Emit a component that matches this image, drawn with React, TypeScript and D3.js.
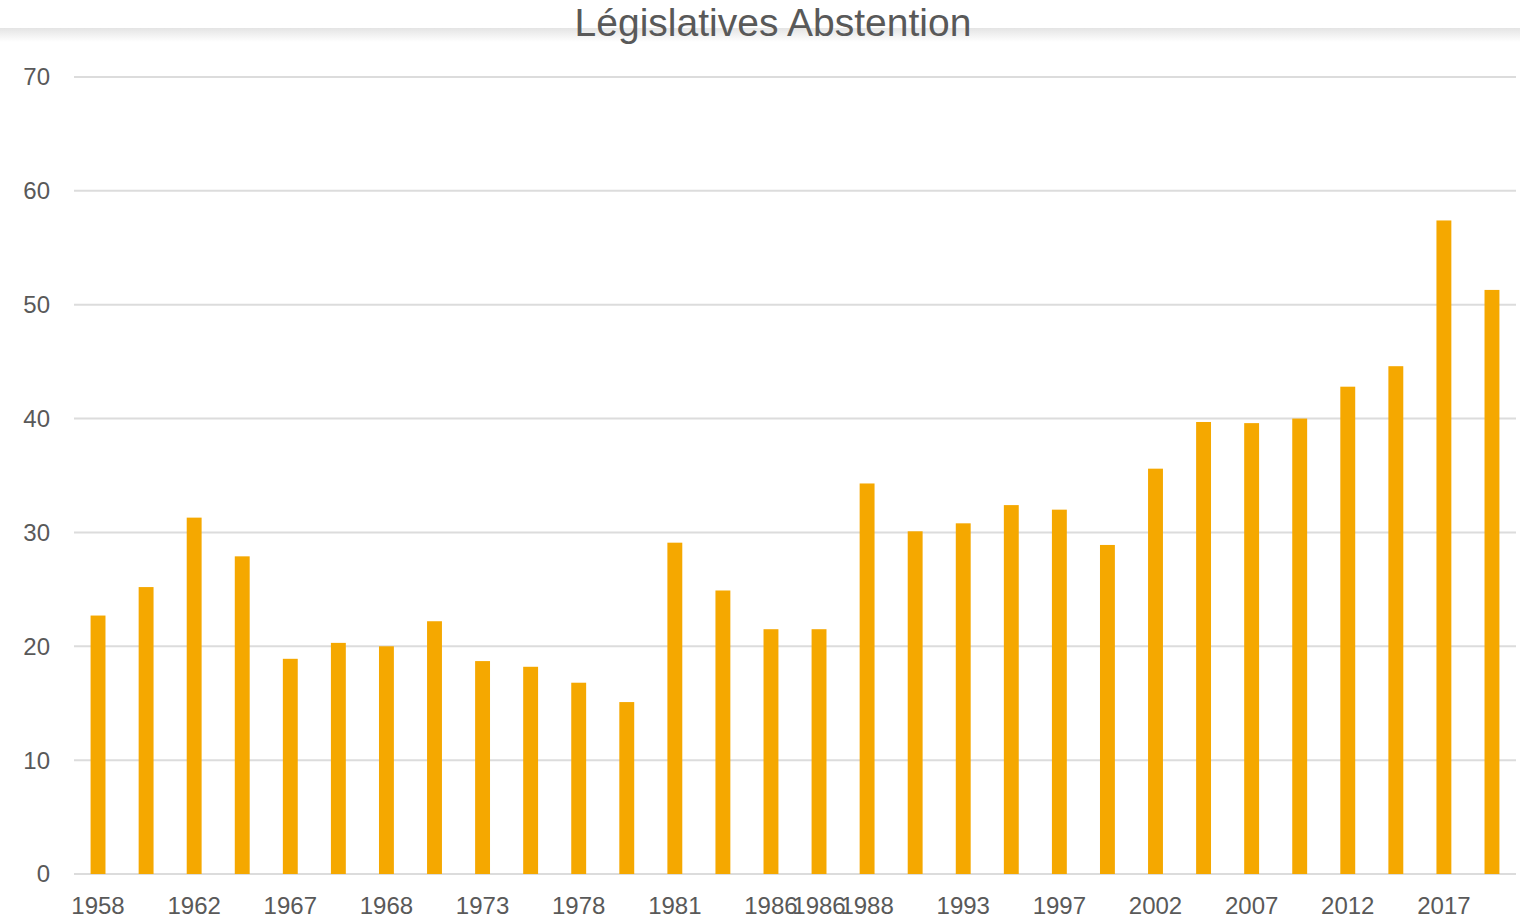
import React from "react";
import * as d3 from "d3";

const categories = [
  "1958", "1958", "1962", "1962", "1967", "1967", "1968", "1968", "1973", "1973",
  "1978", "1978", "1981", "1981", "1986", "1986", "1988", "1988", "1993", "1993",
  "1997", "1997", "2002", "2002", "2007", "2007", "2012", "2012", "2017", "2017",
];
const abstention = [
  22.7, 25.2, 31.3, 27.9, 18.9, 20.3, 20.0, 22.2, 18.7, 18.2,
  16.8, 15.1, 29.1, 24.9, 21.5, 21.5, 34.3, 30.1, 30.8, 32.4,
  32.0, 28.9, 35.6, 39.7, 39.6, 40.0, 42.8, 44.6, 57.4, 51.3,
];
const labelIndices = [0, 2, 4, 6, 8, 10, 12, 14, 15, 16, 18, 20, 22, 24, 26, 28];
const yTicks = [0, 10, 20, 30, 40, 50, 60, 70];
const title = "Législatives Abstention";

export default function App() {
  const W = 1520, H = 918;
  const left = 74, right = 1516, top = 77, bottom = 874;
  const x = d3.scaleBand<number>().domain(d3.range(categories.length)).range([left, right]).paddingInner(0.69).paddingOuter(0.345);
  const y = d3.scaleLinear().domain([0, 70]).range([bottom, top]);
  const font = "'Liberation Sans', Arial, Helvetica, sans-serif";
  return (
    <svg width={W} height={H} style={{ position: "absolute", left: 0, top: 0, background: "#fff" }}>
      <defs>
        <linearGradient id="shadow" x1="0" y1="0" x2="0" y2="1">
          <stop offset="0" stopColor="#e4e4e4" />
          <stop offset="1" stopColor="#ffffff" />
        </linearGradient>
      </defs>
      <rect x={0} y={28} width={W} height={14} fill="url(#shadow)" />
      <text x={773} y={36} textAnchor="middle" fontFamily={font} fontSize={39} fill="#595959">{title}</text>
      {yTicks.map((t) => (
        <g key={t}>
          <line x1={left} x2={right} y1={y(t)} y2={y(t)} stroke="#dcdcdc" strokeWidth={2} />
          <text x={50} y={y(t)} dy="0.35em" textAnchor="end" fontFamily={font} fontSize={24} fill="#595959">{t}</text>
        </g>
      ))}
      {abstention.map((v, i) => (
        <rect key={i} x={x(i)} y={y(v)} width={x.bandwidth()} height={y(0) - y(v)} fill="#f5a800" />
      ))}
      {labelIndices.map((i) => (
        <text key={i} x={(x(i) as number) + x.bandwidth() / 2} y={914} textAnchor="middle" fontFamily={font} fontSize={24} fill="#595959">{categories[i]}</text>
      ))}
    </svg>
  );
}
